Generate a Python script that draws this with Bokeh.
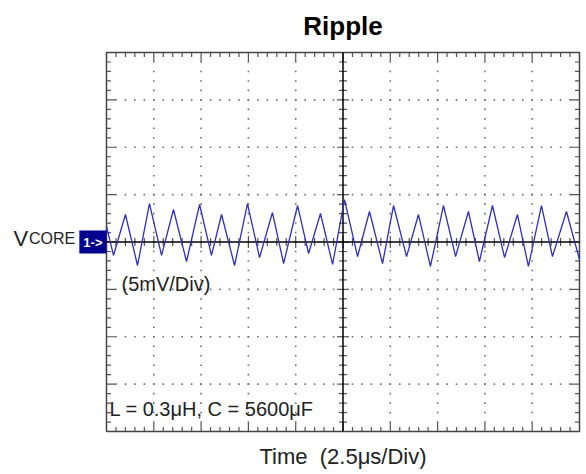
import numpy as np
from bokeh.plotting import figure
from bokeh.models import Label, Range1d
from bokeh.embed import file_html
from bokeh.resources import INLINE

# ---- data (time in microseconds, ripple in mV) ----
time_us = [0.00, 0.37, 1.00, 1.64, 2.27, 2.91, 3.54, 4.23, 4.92, 5.55,
           6.08, 6.77, 7.45, 8.09, 8.77, 9.36, 10.10, 10.68, 11.31, 11.95,
           12.58, 13.27, 13.90, 14.59, 15.17, 15.86, 16.49, 17.12, 17.81, 18.45,
           19.13, 19.71, 20.40, 21.04, 21.72, 22.30, 22.99, 23.57, 24.31, 25.00]
vcore_mv = [1.64, -1.42, 2.90, -2.48, 4.06, -1.42, 3.43, -2.06, 3.96, -1.42,
            2.90, -2.48, 4.06, -1.64, 3.11, -2.27, 3.85, -1.21, 3.01, -2.37,
            4.48, -1.53, 3.22, -2.27, 3.85, -1.53, 2.90, -2.58, 3.85, -1.53,
            3.22, -2.06, 3.85, -1.64, 2.90, -2.58, 3.85, -1.53, 3.22, -1.85]

# scope screen: 10 horizontal x 8 vertical divisions
time_per_div = 2.5    # us/div
volt_per_div = 5.0    # mV/div
n_hdiv = 10
n_vdiv = 8
minor_per_div = 5

title_text = "Ripple"
channel_name = "V"
channel_sub = "CORE"
channel_marker = "1->"
scale_text = "(5mV/Div)"
param_text = "L = 0.3\u03bcH, C = 5600\u03bcF"
xlabel_text = "Time \u00a0(2.5\u03bcs/Div)"

# ---- layout (screen px of the scope graticule inside the canvas) ----
W, H = 586, 474
SL, ST, SW, SH = 106, 52, 473, 379
x0, x1 = 0.0, n_hdiv * time_per_div
y0, y1 = -n_vdiv / 2 * volt_per_div, n_vdiv / 2 * volt_per_div
xpx = SW / (x1 - x0)
ypx = SH / (y1 - y0)

def fx(px):  # canvas px -> data x
    return x0 + (px - SL) / xpx

def fy(py):  # canvas px (from top) -> data y
    return y1 - (py - ST) / ypx

p = figure(width=W, height=H, output_backend="svg", toolbar_location=None,
           x_range=Range1d(fx(0), fx(W)), y_range=Range1d(fy(H), fy(0)),
           x_axis_type=None, y_axis_type=None,
           min_border_left=0, min_border_right=0,
           min_border_top=0, min_border_bottom=0)
p.outline_line_color = None
p.background_fill_color = "white"
p.border_fill_color = "white"

FONT = "Liberation Sans"

# ---- dotted graticule ----
minor_dx = time_per_div / minor_per_div
minor_dy = volt_per_div / minor_per_div
minor_x = np.round(np.arange(x0, x1 + 1e-9, minor_dx), 6)
minor_y = np.round(np.arange(y0, y1 + 1e-9, minor_dy), 6)
major_x = np.round(np.arange(x0, x1 + 1e-9, time_per_div), 6)
major_y = np.round(np.arange(y0, y1 + 1e-9, volt_per_div), 6)
xc, yc = (x0 + x1) / 2, (y0 + y1) / 2
gx = [m for m in major_x if m not in (x0, x1, xc)]
gy = [m for m in major_y if m not in (y0, y1, yc)]
dxs, dys = [], []
for m in gx:
    for v in minor_y[1:-1]:
        dxs.append(m); dys.append(v)
for m in gy:
    for t in minor_x[1:-1]:
        dxs.append(t); dys.append(m)
p.scatter(dxs, dys, marker="square", size=1.6, fill_color="#707070", line_color=None)

# ---- tick marks on border and centre crosshair ----
tick_col = "#555555"
def is_major(v, step):
    return abs(v / step - round(v / step)) < 1e-6

sx0, sy0, sx1, sy1 = [], [], [], []
for t in minor_x[1:-1]:
    L = (9 if is_major(t, time_per_div) else 4.5) / ypx
    sx0 += [t, t]; sx1 += [t, t]
    sy0 += [y1, y0]; sy1 += [y1 - L, y0 + L]
    c = (6 if is_major(t, time_per_div) else 4) / ypx
    sx0.append(t); sx1.append(t); sy0.append(yc - c); sy1.append(yc + c)
for v in minor_y[1:-1]:
    L = (9 if is_major(v, volt_per_div) else 4.5) / xpx
    sy0 += [v, v]; sy1 += [v, v]
    sx0 += [x0, x1]; sx1 += [x0 + L, x1 - L]
    c = (6 if is_major(v, volt_per_div) else 4) / xpx
    sy0.append(v); sy1.append(v); sx0.append(xc - c); sx1.append(xc + c)
p.segment(sx0, sy0, sx1, sy1, line_color=tick_col, line_width=1.2)

# border and centre crosshair
p.quad(left=[x0], right=[x1], bottom=[y0], top=[y1], fill_color=None,
       line_color="#444444", line_width=1.5)
p.segment([x0, xc], [yc, y0], [x1, xc], [yc, y1], line_color="black", line_width=1.5)

# ---- ripple trace ----
p.line(time_us, vcore_mv, line_color="#2e2ec0", line_width=1.3)

# ---- texts ----
p.add_layout(Label(x=xc, y=fy(25), text=title_text, text_align="center",
                   text_baseline="alphabetic", text_font=FONT, text_font_size="26px",
                   text_font_style="bold", text_color="black"))
p.add_layout(Label(x=fx(13), y=fy(238), text=channel_name, text_align="left",
                   text_baseline="alphabetic", text_font=FONT, text_font_size="22px",
                   text_color="#222222"))
p.add_layout(Label(x=fx(28.5), y=fy(238), text=channel_sub, text_align="left",
                   text_baseline="alphabetic", text_font=FONT, text_font_size="16px",
                   text_color="#222222"))
p.add_layout(Label(x=x0, y=yc, text=channel_marker, text_align="right",
                   text_baseline="middle", text_font=FONT, text_font_size="13px",
                   text_font_style="bold", text_color="white",
                   background_fill_color="#00008f", padding=4))
p.add_layout(Label(x=fx(121), y=fy(283), text=scale_text, text_align="left",
                   text_baseline="alphabetic", text_font=FONT, text_font_size="20px",
                   text_color="#222222"))
p.add_layout(Label(x=fx(109), y=fy(408), text=param_text, text_align="left",
                   text_baseline="alphabetic", text_font=FONT, text_font_size="20px",
                   text_color="#222222"))
p.add_layout(Label(x=xc, y=fy(456), text=xlabel_text, text_align="center",
                   text_baseline="alphabetic", text_font=FONT, text_font_size="22px",
                   text_color="#222222"))

open("out.html", "w").write(file_html(p, INLINE))
